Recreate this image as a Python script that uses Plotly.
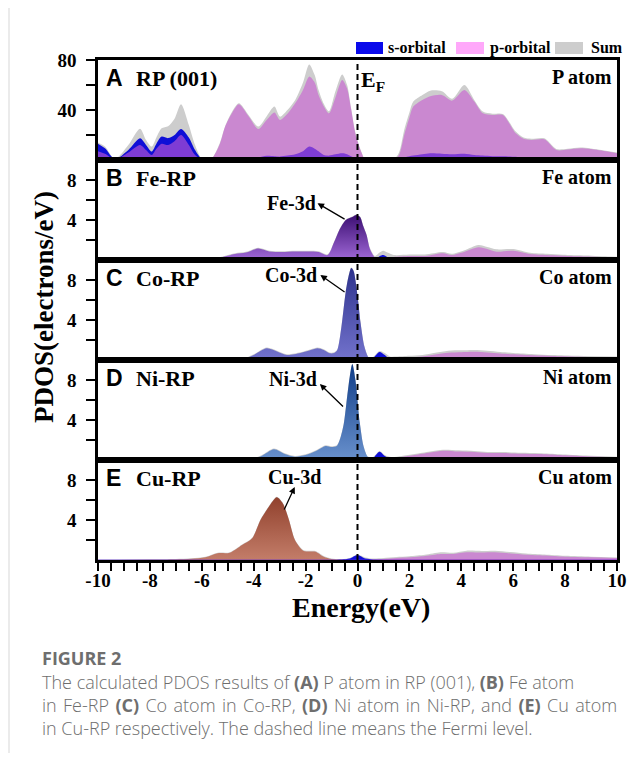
import plotly.graph_objects as go
from plotly.subplots import make_subplots

# ---------------- data (energies in eV, PDOS in electrons/eV) ----------------
A_energy = [-10, -9.73, -9.35, -8.83, -8.38, -8.15, -7.93, -7.75, -7.55, -7.3, -7.05, -6.8, -6.5, -6.26, -6.0,
            -5.8, -5.62, -5.3, -5.1, -4.85, -4.57, -4.2, -3.82, -3.5, -3.2, -2.99, -2.7, -2.4, -2.1, -1.86,
            -1.65, -1.5, -1.3, -1.1, -0.85, -0.59, -0.4, -0.25, -0.07, 0.16, 0.3, 1.4, 1.6, 1.8, 2.0,
            2.15, 2.5, 2.8, 3.25, 3.65, 4.12, 4.5, 4.83, 5.2, 5.6, 6.1, 6.4, 6.7, 7.2, 7.66, 8.1, 8.6, 9.4, 10]
A_sum = [14, 10.7, 0.8, 12, 25, 16, 10.7, 18, 25.3, 27, 33, 44.5, 28, 12, 1,
         0.5, 1, 14, 27, 38, 45.3, 36, 26.7, 35, 42.7, 34.7, 40, 48, 62, 76.5,
         68, 56, 45, 39, 55, 68.5, 60, 42, 21, 6, 0.8, 0.8, 6, 24, 38,
         46.7, 52, 55.5, 55, 49, 60, 48, 38.7, 37, 36.8, 22.7, 18, 17, 17.3, 8.8, 9, 10, 8, 5.9]
A_p = [7, 5, 0.5, 6, 12, 8, 4, 9, 13, 12, 15, 20, 12, 4, 0.3,
       0.2, 1, 13, 26.7, 37, 44.5, 35, 24.8, 32, 38, 32, 37, 45.3, 56, 66.7,
       62, 52, 43, 37.3, 50, 64, 57, 41, 20, 5.6, 0.3, 0.3, 4, 20, 34,
       42.7, 48, 51, 52, 47.5, 56, 46.7, 37.3, 36, 36, 21.3, 17, 16, 16.5, 8, 8.3, 9.3, 7.5, 5.3]
A_s = [13, 9.3, 0.6, 8, 17.3, 12, 6.7, 13, 18.7, 17.5, 20, 24.8, 18, 8, 0.8,
       0.3, 0.5, 1, 1.5, 1.8, 1.8, 1.8, 2, 3.3, 3, 2.7, 3.5, 4.5, 7, 10.7,
       9, 7, 4, 3.5, 4.5, 5.3, 4.5, 3, 1.5, 0.5, 0.2, 0.2, 0.8, 2, 3,
       3.5, 4.5, 5.3, 5, 4.5, 5, 4, 3.5, 3, 3, 2.5, 2, 1.8, 1.5, 1, 1, 1, 0.8, 0.5]

B_energy = [-10, -8, -6.5, -6.0, -5.6, -5.2, -4.72, -4.3, -3.82, -3.4, -2.92, -2.4, -1.9, -1.5, -1.15,
            -0.9, -0.7, -0.45, -0.2, -0.05, 0.1, 0.22, 0.35, 0.48, 0.67, 0.85, 0.99, 1.15, 1.4, 2.0,
            2.6, 3.3, 3.63, 4.1, 4.66, 5.0, 5.36, 6.0, 6.65, 7.3, 7.9, 8.8, 9.73, 10]
B_d = [0, 0, 0.02, 0.08, 0.17, 0.3, 0.6, 0.75, 1.15, 0.85, 0.8, 0.85, 0.85, 0.8, 0.5,
       1.8, 3.0, 4.0, 4.3, 4.5, 4.3, 3.4, 2.5, 1.1, 0.25, 0.1, 0.08, 0.08, 0.08, 0.08,
       0.08, 0.1, 0.08, 0.1, 0.12, 0.1, 0.1, 0.1, 0.08, 0.06, 0.05, 0.04, 0.03, 0.03]
B_s = [0.06, 0.06, 0.05, 0.04, 0.04, 0.03, 0.03, 0.03, 0.03, 0.03, 0.03, 0.03, 0.03, 0.03, 0.03,
       0.03, 0.03, 0.03, 0.03, 0.03, 0.03, 0.03, 0.03, 0.03, 0.08, 0.38, 0.5, 0.3, 0.06, 0.05,
       0.05, 0.05, 0.05, 0.05, 0.05, 0.05, 0.05, 0.05, 0.04, 0.04, 0.03, 0.03, 0.03, 0.03]
B_p = [0.02, 0.02, 0.02, 0.02, 0.02, 0.02, 0.02, 0.02, 0.02, 0.02, 0.02, 0.02, 0.02, 0.02, 0.02,
       0.02, 0.02, 0.02, 0.02, 0.02, 0.02, 0.02, 0.02, 0.02, 0.05, 0.1, 0.15, 0.2, 0.3, 0.4,
       0.4, 0.67, 0.5, 0.8, 1.27, 1.1, 0.83, 0.93, 0.6, 0.5, 0.43, 0.35, 0.27, 0.25]
B_sum = [0.07, 0.07, 0.08, 0.13, 0.22, 0.36, 0.67, 0.82, 1.22, 0.92, 0.87, 0.92, 0.92, 0.87, 0.57,
         1.85, 3.05, 4.05, 4.35, 4.55, 4.35, 3.45, 2.55, 1.2, 0.4, 0.75, 0.93, 0.75, 0.5, 0.55,
         0.55, 0.8, 0.62, 0.95, 1.5, 1.3, 1.07, 1.1, 0.72, 0.62, 0.53, 0.45, 0.35, 0.33]

C_energy = [-10, -8, -6, -5.0, -4.45, -4.0, -3.5, -3.1, -2.72, -2.2, -1.8, -1.54, -1.3, -1.07, -0.9,
            -0.78, -0.62, -0.46, -0.35, -0.24, -0.15, -0.08, 0.02, 0.12, 0.27, 0.44, 0.6, 0.85, 1.05, 1.25,
            1.5, 2.0, 2.5, 3.0, 3.5, 4.0, 4.5, 5.0, 5.5, 6.0, 6.8, 7.5, 8.5, 10]
C_d = [0, 0, 0.01, 0.02, 0.05, 0.5, 1.17, 0.85, 0.5, 0.7, 1.0, 1.17, 1.0, 0.67, 0.7,
       1.0, 3.3, 6.7, 8.3, 9.2, 8.9, 8.0, 6.0, 3.7, 1.3, 0.2, 0.05, 0.03, 0.03, 0.03,
       0.05, 0.05, 0.05, 0.06, 0.08, 0.08, 0.08, 0.07, 0.06, 0.05, 0.04, 0.04, 0.03, 0.03]
C_s = [0.05, 0.05, 0.04, 0.03, 0.03, 0.03, 0.03, 0.03, 0.03, 0.03, 0.03, 0.03, 0.03, 0.03, 0.03,
       0.03, 0.03, 0.03, 0.03, 0.03, 0.03, 0.03, 0.03, 0.03, 0.03, 0.03, 0.2, 0.8, 0.5, 0.1,
       0.05, 0.05, 0.05, 0.05, 0.05, 0.05, 0.05, 0.05, 0.05, 0.05, 0.05, 0.05, 0.05, 0.05]
C_p = [0.02, 0.02, 0.02, 0.02, 0.02, 0.02, 0.02, 0.02, 0.02, 0.02, 0.02, 0.02, 0.02, 0.02, 0.02,
       0.02, 0.02, 0.02, 0.02, 0.02, 0.02, 0.02, 0.02, 0.02, 0.02, 0.02, 0.03, 0.05, 0.1, 0.15,
       0.2, 0.28, 0.35, 0.55, 0.73, 0.78, 0.83, 0.75, 0.65, 0.57, 0.47, 0.4, 0.33, 0.27]
C_sum = [0.06, 0.06, 0.06, 0.07, 0.1, 0.57, 1.25, 0.93, 0.57, 0.77, 1.08, 1.25, 1.08, 0.75, 0.77,
         1.05, 3.35, 6.75, 8.35, 9.25, 8.95, 8.05, 6.05, 3.75, 1.35, 0.27, 0.3, 0.9, 0.7, 0.35,
         0.35, 0.42, 0.5, 0.72, 0.93, 0.97, 1.0, 0.92, 0.8, 0.7, 0.58, 0.5, 0.42, 0.35]

D_energy = [-10, -8, -6, -5, -4.13, -3.7, -3.22, -2.8, -2.41, -2.0,
            -1.6, -1.23, -1.0, -0.8, -0.66, -0.53, -0.4, -0.3, -0.2, -0.08,
            0.09, 0.24, 0.4, 0.6, 0.85, 1.05, 1.3, 1.7, 2.2, 2.8,
            3.3, 3.9, 4.5, 5.0, 5.6, 6.3, 7.0, 7.8, 8.8, 10]
D_d = [0, 0, 0.01, 0.02, 0.05, 0.4, 1.07, 0.6, 0.33, 0.5,
       0.9, 1.4, 1.3, 1.4, 2.2, 3.6, 6.3, 8.3, 9.6, 8.0,
       3.7, 1.3, 0.3, 0.05, 0.03, 0.03, 0.04, 0.05, 0.06, 0.07,
       0.08, 0.08, 0.08, 0.07, 0.06, 0.05, 0.05, 0.04, 0.03, 0.03]
D_s = [0.05, 0.05, 0.04, 0.03, 0.03, 0.03, 0.03, 0.03, 0.03, 0.03,
       0.03, 0.03, 0.03, 0.03, 0.03, 0.03, 0.03, 0.03, 0.03, 0.03,
       0.03, 0.03, 0.03, 0.2, 0.83, 0.4, 0.08, 0.05, 0.05, 0.05,
       0.05, 0.05, 0.05, 0.05, 0.05, 0.05, 0.05, 0.05, 0.05, 0.05]
D_p = [0.02, 0.02, 0.02, 0.02, 0.02, 0.02, 0.02, 0.02, 0.02, 0.02,
       0.02, 0.02, 0.02, 0.02, 0.02, 0.02, 0.02, 0.02, 0.02, 0.02,
       0.02, 0.02, 0.02, 0.02, 0.03, 0.05, 0.15, 0.3, 0.5, 0.75,
       0.93, 0.85, 0.8, 0.7, 0.7, 0.63, 0.6, 0.5, 0.38, 0.27]
D_sum = [0.06, 0.06, 0.06, 0.07, 0.1, 0.47, 1.15, 0.67, 0.4, 0.57,
         0.97, 1.47, 1.37, 1.47, 2.25, 3.65, 6.35, 8.35, 9.65, 8.05,
         3.75, 1.35, 0.35, 0.3, 0.9, 0.5, 0.3, 0.4, 0.6, 0.85,
         1.03, 0.97, 0.9, 0.8, 0.8, 0.72, 0.68, 0.58, 0.45, 0.33]

E_energy = [-10, -8, -7, -6.4, -5.86, -5.39, -4.92, -4.45, -4.06, -3.74,
            -3.43, -3.11, -2.88, -2.64, -2.41, -2.09, -1.85, -1.62, -1.3, -1.0,
            -0.6, -0.3, 0, 0.3, 0.6, 1.0, 1.5, 2.0, 2.6, 3.2,
            3.7, 4.2, 4.8, 5.3, 5.9, 6.5, 7.2, 8.0, 9.0, 10]
E_d = [0, 0.02, 0.05, 0.12, 0.27, 0.67, 0.73, 1.5, 2.17, 4.0,
       5.27, 6.27, 5.67, 4.0, 2.0, 0.93, 0.85, 0.83, 0.33, 0.1,
       0.05, 0.04, 0.04, 0.03, 0.03, 0.03, 0.04, 0.05, 0.06, 0.07,
       0.08, 0.08, 0.08, 0.08, 0.07, 0.06, 0.05, 0.04, 0.03, 0.03]
E_s = [0.03, 0.03, 0.03, 0.03, 0.03, 0.03, 0.03, 0.03, 0.03, 0.03,
       0.03, 0.03, 0.03, 0.03, 0.03, 0.03, 0.03, 0.03, 0.03, 0.03,
       0.05, 0.15, 0.5, 0.15, 0.06, 0.06, 0.06, 0.06, 0.06, 0.06,
       0.06, 0.06, 0.06, 0.06, 0.06, 0.06, 0.06, 0.06, 0.06, 0.06]
E_p = [0.02, 0.02, 0.02, 0.02, 0.02, 0.02, 0.02, 0.02, 0.02, 0.02,
       0.02, 0.02, 0.02, 0.02, 0.02, 0.02, 0.02, 0.02, 0.02, 0.02,
       0.02, 0.02, 0.02, 0.02, 0.05, 0.1, 0.2, 0.27, 0.4, 0.6,
       0.6, 0.77, 0.75, 0.77, 0.65, 0.53, 0.45, 0.33, 0.27, 0.2]
E_sum = [0.05, 0.07, 0.1, 0.17, 0.32, 0.72, 0.78, 1.55, 2.22, 4.05,
         5.32, 6.32, 5.72, 4.05, 2.05, 1.0, 0.92, 0.9, 0.4, 0.15,
         0.1, 0.2, 0.55, 0.25, 0.15, 0.2, 0.3, 0.38, 0.52, 0.77,
         0.72, 0.93, 0.9, 0.93, 0.8, 0.65, 0.55, 0.42, 0.33, 0.26]

panel_letters = ["A", "B", "C", "D", "E"]
panel_names = ["RP (001)", "Fe-RP", "Co-RP", "Ni-RP", "Cu-RP"]
atom_labels = ["P atom", "Fe atom", "Co atom", "Ni atom", "Cu atom"]
d_labels = ["Fe-3d", "Co-3d", "Ni-3d", "Cu-3d"]
legend_labels = ["s-orbital", "p-orbital", "Sum"]
x_ticks = [-10, -8, -6, -4, -2, 0, 2, 4, 6, 8, 10]

# ---------------- styling ----------------
SERIF = "Liberation Serif"
SANS = "Liberation Sans"
C_S = "rgb(15,15,215)"
C_P = "rgba(200,90,210,0.6)"
C_SUM = "rgb(205,205,205)"
D_GRAD = [
    [[0, "rgb(160,105,215)"], [1, "rgb(60,15,115)"]],
    [[0, "rgb(115,115,205)"], [1, "rgb(45,50,140)"]],
    [[0, "rgb(105,145,205)"], [1, "rgb(15,60,135)"]],
    [[0, "rgb(195,125,105)"], [1, "rgb(145,65,45)"]],
]

# page offset: the browser puts an 8px margin around the figure
OFF = 8
FIG_W, FIG_H = 640 - OFF, 761 - 2 * OFF
PLOT_L, PLOT_T, PLOT_W, PLOT_H = 98, 60, 519, 500   # plot area in page pixels

fig = make_subplots(rows=5, cols=1, shared_xaxes=True, vertical_spacing=0)


def area(row, x, y, color=None, grad=None):
    assert len(x) == len(y)
    kw = dict(x=x, y=y, mode="lines", fill="tozeroy", showlegend=False, hoverinfo="skip",
              line=dict(width=0, shape="spline", smoothing=0.8, color=color or "rgba(0,0,0,0)"))
    if grad is not None:
        kw["fillgradient"] = dict(type="vertical", colorscale=grad)
    else:
        kw["fillcolor"] = color
    fig.add_trace(go.Scatter(**kw), row=row, col=1)


area(1, A_energy, A_sum, C_SUM)
area(1, A_energy, A_s, C_S)
area(1, A_energy, A_p, C_P)

panels = [
    (B_energy, B_d, B_s, B_p, B_sum),
    (C_energy, C_d, C_s, C_p, C_sum),
    (D_energy, D_d, D_s, D_p, D_sum),
    (E_energy, E_d, E_s, E_p, E_sum),
]
for i, (en, d, s, p, sm) in enumerate(panels):
    r = i + 2
    area(r, en, sm, C_SUM)
    area(r, en, d, grad=D_GRAD[i])
    area(r, en, s, C_S)
    area(r, en, p, C_P)

tickfont = dict(family=SERIF, size=19, color="black", weight="bold")
for r in range(1, 6):
    fig.update_xaxes(range=[-10, 10], showline=True, linewidth=2.5, linecolor="black", mirror=True,
                     showgrid=False, zeroline=False, ticks="", row=r, col=1)
    if r == 1:
        fig.update_yaxes(range=[0, 80], tickvals=[20, 40, 60, 80], ticktext=["", "40", "", "80"], row=r, col=1)
    else:
        fig.update_yaxes(range=[0, 10], tickvals=[2, 4, 6, 8], ticktext=["", "4", "", "8"], row=r, col=1)
    fig.update_yaxes(showline=True, linewidth=2.5, linecolor="black", mirror=True, showgrid=False,
                     zeroline=False, ticks="outside", ticklen=9, tickwidth=1.5, tickcolor="black",
                     tickfont=tickfont, ticklabelstandoff=6, row=r, col=1)

fig.update_xaxes(ticks="outside", ticklen=8, tickwidth=1.5, tickcolor="black", tickvals=x_ticks,
                 ticktext=[str(v) for v in x_ticks], showticklabels=True, tickfont=tickfont,
                 ticklabelstandoff=-7,
                 minor=dict(dtick=0.5, tick0=0, ticks="outside", ticklen=8, tickwidth=1.5, tickcolor="black"),
                 row=5, col=1)


def PX(px):
    return (px - PLOT_L) / float(PLOT_W)


def PY(py):
    return (PLOT_T + PLOT_H - py) / float(PLOT_H)


ann = []
shapes = []
bold = "bold"
for i in range(5):
    yc = 78 + 100 * i
    ann.append(dict(text=panel_letters[i], x=PX(104), y=PY(yc), xanchor="left", yanchor="middle",
                    font=dict(family=SANS, size=23, color="black", weight=bold)))
    ann.append(dict(text=panel_names[i], x=PX(134), y=PY(yc), xanchor="left", yanchor="middle",
                    font=dict(family=SERIF, size=22, color="black", weight=bold)))
    ann.append(dict(text=atom_labels[i], x=PX(614), y=PY(yc - 1), xanchor="right", yanchor="middle",
                    font=dict(family=SERIF, size=20, color="black", weight=bold)))

ann.append(dict(text="E<sub>F</sub>", x=PX(359), y=PY(81), xanchor="left", yanchor="middle",
                font=dict(family=SERIF, size=22, color="black", weight=bold)))

d_pos = [(291.5, 203), (290.5, 275), (292.5, 379), (294.5, 477)]
for i, (cx, cy) in enumerate(d_pos):
    ann.append(dict(text=d_labels[i], x=PX(cx), y=PY(cy), xanchor="center", yanchor="middle",
                    font=dict(family=SERIF, size=20, color="black", weight=bold)))

arrows = [(-1.54, 5.67, -0.44, 4.0), (-1.43, 8.5, -0.44, 6.7), (-1.45, 7.6, -0.5, 5.2), (-2.42, 7.3, -2.85, 4.9)]
for i, (hx, hy, tx, ty) in enumerate(arrows):
    n = i + 2
    ann.append(dict(text="", x=hx, y=hy, xref=f"x{n}", yref=f"y{n}", ax=tx, ay=ty,
                    axref=f"x{n}", ayref=f"y{n}", showarrow=True, arrowhead=2, arrowsize=1,
                    arrowwidth=1.3, arrowcolor="black"))

ann.append(dict(text="PDOS(electrons/eV)", x=PX(44), y=PY(307), textangle=-90, xanchor="center",
                yanchor="middle", font=dict(family=SERIF, size=27, color="black", weight=bold)))
ann.append(dict(text="Energy(eV)", x=PX(361), y=PY(607), xanchor="center", yanchor="middle",
                font=dict(family=SERIF, size=28, color="black", weight=bold)))

# legend (manual)
leg_boxes = [(356, 383, "rgb(10,10,235)"), (456, 484, "rgb(255,168,250)"), (555, 583, "rgb(205,205,205)")]
leg_text_x = [386, 488, 589]
for (x0, x1, col), tx, lab in zip(leg_boxes, leg_text_x, legend_labels):
    shapes.append(dict(type="rect", xref="paper", yref="paper", x0=PX(x0), x1=PX(x1), y0=PY(54), y1=PY(42),
                       fillcolor=col, line=dict(width=0)))
    ann.append(dict(text=lab, x=PX(tx), y=PY(48), xanchor="left", yanchor="middle",
                    font=dict(family=SERIF, size=16, color="black", weight=bold)))

# Fermi level
shapes.append(dict(type="line", xref="x5", yref="paper", x0=0, x1=0, y0=0, y1=1,
                   line=dict(color="black", width=2, dash="6px,4px"), layer="above"))
# page border line at left
shapes.append(dict(type="line", xref="paper", yref="paper", x0=PX(9), x1=PX(9), y0=PY(OFF), y1=PY(761 - OFF),
                   line=dict(color="rgb(215,215,215)", width=1)))

CAP = "Open Sans"
cap_col = "rgb(110,110,110)"
ann.append(dict(text="FIGURE 2", x=PX(40), y=PY(658), xanchor="left", yanchor="middle",
                font=dict(family=CAP, size=18, color=cap_col, weight=bold)))
cap_lines = [
    "The calculated PDOS results of <b>(A)</b> P atom in RP (001), <b>(B)</b> Fe atom",
    "<span style=\"word-spacing:1.7px\">in Fe-RP <b>(C)</b> Co atom in Co-RP, <b>(D)</b> Ni atom in Ni-RP, "
    "and <b>(E)</b> Cu atom</span>",
    "in Cu-RP respectively. The dashed line means the Fermi level.",
]
for i, t in enumerate(cap_lines):
    ann.append(dict(text=t, x=PX(40), y=PY(682 + 23 * i), xanchor="left", yanchor="middle",
                    font=dict(family=CAP, size=18, color=cap_col, weight=300)))

for a in ann:
    a.setdefault("xref", "paper")
    a.setdefault("yref", "paper")
    a.setdefault("showarrow", False)

fig.update_layout(width=FIG_W, height=FIG_H,
                  margin=dict(l=PLOT_L - OFF, r=FIG_W - (PLOT_L - OFF) - PLOT_W,
                              t=PLOT_T - OFF, b=FIG_H - (PLOT_T - OFF) - PLOT_H),
                  plot_bgcolor="white", paper_bgcolor="white", showlegend=False,
                  annotations=ann, shapes=shapes)

fig.write_html("out.html")
